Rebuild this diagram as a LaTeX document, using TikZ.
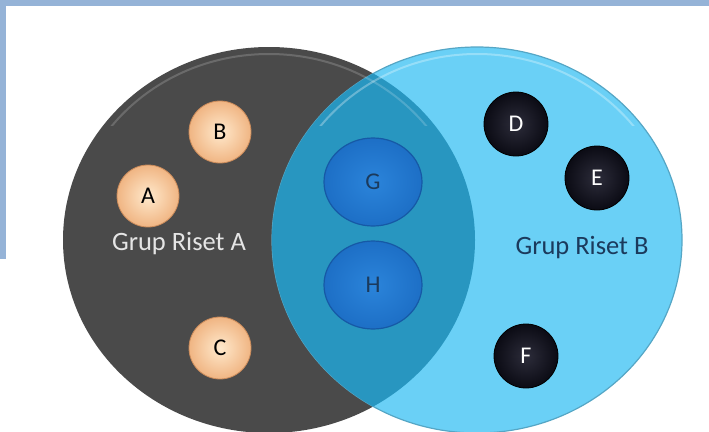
\documentclass[tikz,border=0pt]{standalone}
\usepackage{fontspec}
\setmainfont{Carlito}
\usetikzlibrary{shapes.geometric}
\definecolor{framecol}{HTML}{95B3D7}
\definecolor{grpdark}{HTML}{4A4A4A}
\definecolor{grpblue}{HTML}{6AD0F6}
\definecolor{grpover}{HTML}{2896C0}
\definecolor{peach}{HTML}{F0B583}
\definecolor{peachlight}{HTML}{FFE9CC}
\definecolor{peachrim}{HTML}{C98A5A}
\definecolor{ballblue}{HTML}{1D6FC6}
\definecolor{ballbluein}{HTML}{2B84DA}
\definecolor{ballbluerim}{HTML}{1659A6}
\definecolor{ballblack}{HTML}{0B0B14}
\definecolor{ballblackin}{HTML}{2C2C3A}
\definecolor{navy}{HTML}{1B3A5C}
\tikzset{
  peachball/.style={circle, minimum size=62pt, inner sep=0pt, draw=peachrim, line width=0.8pt,
    inner color=peachlight, outer color=peach, text=black, font=\fontsize{24}{26}\selectfont},
  blackball/.style={circle, minimum size=64pt, inner sep=0pt, draw=black, line width=0.8pt,
    inner color=ballblackin, outer color=ballblack, text=white, font=\fontsize{24}{26}\selectfont},
  blueball/.style={ellipse, minimum width=98pt, minimum height=88pt, inner sep=0pt, draw=ballbluerim, line width=1.2pt,
    inner color=ballbluein, outer color=ballblue, text=navy, font=\fontsize{24}{26}\selectfont},
  grplabel/.style={font=\fontsize{26.5}{29}\selectfont, inner sep=0pt}
}
\begin{document}
\begin{tikzpicture}[x=1pt,y=-1pt]
\useasboundingbox (0,0) rectangle (709,431);
\clip (0,0) rectangle (709,431);
\fill[white] (0,0) rectangle (709,431);
% frame bars
\fill[framecol] (0,0) rectangle (709,6);
\fill[framecol] (0,0) rectangle (6,259);
% group circles
\node[ellipse, minimum width=412pt, minimum height=386pt, inner sep=0pt, fill=grpdark] (grpA) at (269,240) {};
\node[ellipse, minimum width=410pt, minimum height=386pt, inner sep=0pt, fill=grpblue, draw=grpblue!80!black, line width=1.2pt] (grpB) at (477,240) {};
\begin{scope}
  \clip (477,240) ellipse [x radius=205pt, y radius=193pt];
  \fill[grpover] (269,240) ellipse [x radius=206pt, y radius=193pt];
\end{scope}
% bevel highlights (upper part only)
\begin{scope}
  \clip (0,0) rectangle (709,125);
  \draw[white, opacity=0.18, line width=2pt] (269,240) ellipse [x radius=199pt, y radius=186pt];
  \draw[white, opacity=0.3, line width=2pt] (477,240) ellipse [x radius=198pt, y radius=186pt];
\end{scope}
% labels
\node[grplabel, text=white!90!black] (labA) at (179,244) {Grup Riset A};
\node[grplabel, text=navy] (labB) at (582,248) {Grup Riset B};
% members
\node[peachball] (A) at (148,196) {A};
\node[peachball] (B) at (220,132) {B};
\node[peachball] (C) at (220,348) {C};
\node[blackball] (D) at (516,124) {D};
\node[blackball] (E) at (597,178) {E};
\node[blackball] (F) at (526,356) {F};
\node[blueball] (G) at (373,182) {G};
\node[blueball] (H) at (373,285) {H};
\end{tikzpicture}
\end{document}
